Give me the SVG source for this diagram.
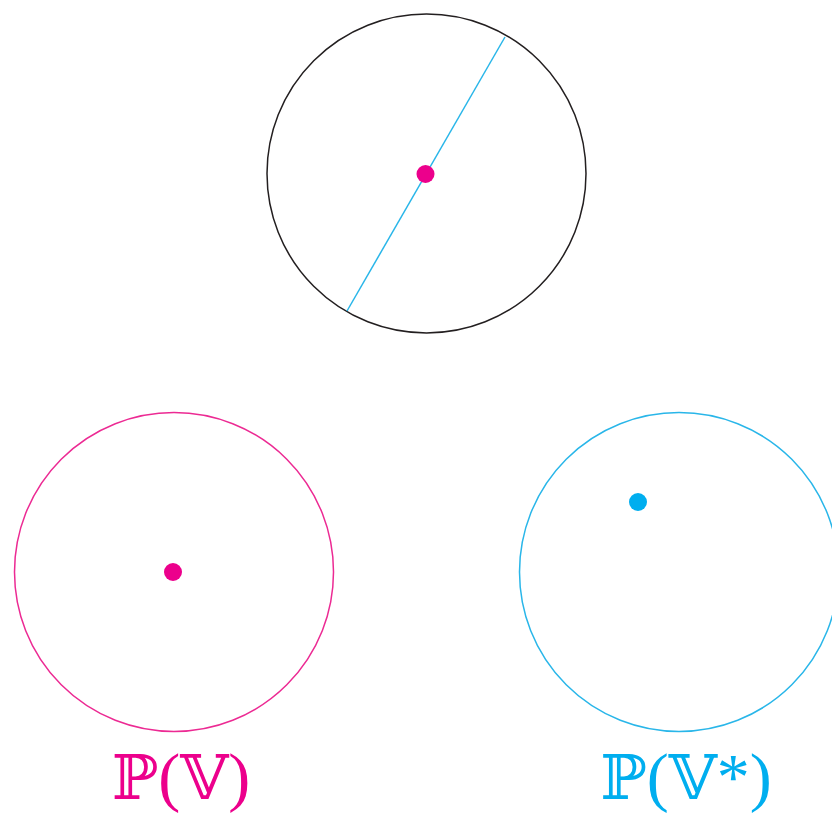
<svg xmlns="http://www.w3.org/2000/svg" width="832" height="814" viewBox="0 0 832 814">
<style>
.c{fill:none;stroke-width:1.5}
.lbl{font-family:"Liberation Serif","DejaVu Serif",serif;font-size:66px}
.bb{font-family:"DejaVu Serif","DejaVu Sans",serif;font-size:62px}
</style>
<rect width="832" height="814" fill="#fff"/>
<g id="top">
<circle class="c" cx="426.5" cy="173.5" r="159.5" stroke="#231F20"/>
</g>
<g id="connectors">
<line x1="505" y1="37" x2="347" y2="311" stroke="#29B6E9" stroke-width="1.5"/>
</g>
<g id="top-point"><circle cx="425.5" cy="174" r="9" fill="#EC008C"/></g>
<g id="PV">
<circle class="c" cx="174" cy="572" r="159.5" stroke="#EC2A93"/>
<circle cx="173" cy="572" r="9" fill="#EC008C"/>
<text class="lbl" x="181" y="799" text-anchor="middle" fill="#EC008C"><tspan class="bb">ℙ</tspan>(<tspan class="bb">𝕍</tspan>)</text>
</g>
<g id="PVstar">
<circle class="c" cx="685" cy="572" r="159.5" stroke="#29B6E9" transform="translate(-6 0)"/>
<circle cx="638" cy="502" r="9" fill="#00AEEF"/>
<text class="lbl" x="686" y="799" text-anchor="middle" fill="#00AEEF"><tspan class="bb">ℙ</tspan>(<tspan class="bb">𝕍</tspan>*)</text>
</g>
</svg>
